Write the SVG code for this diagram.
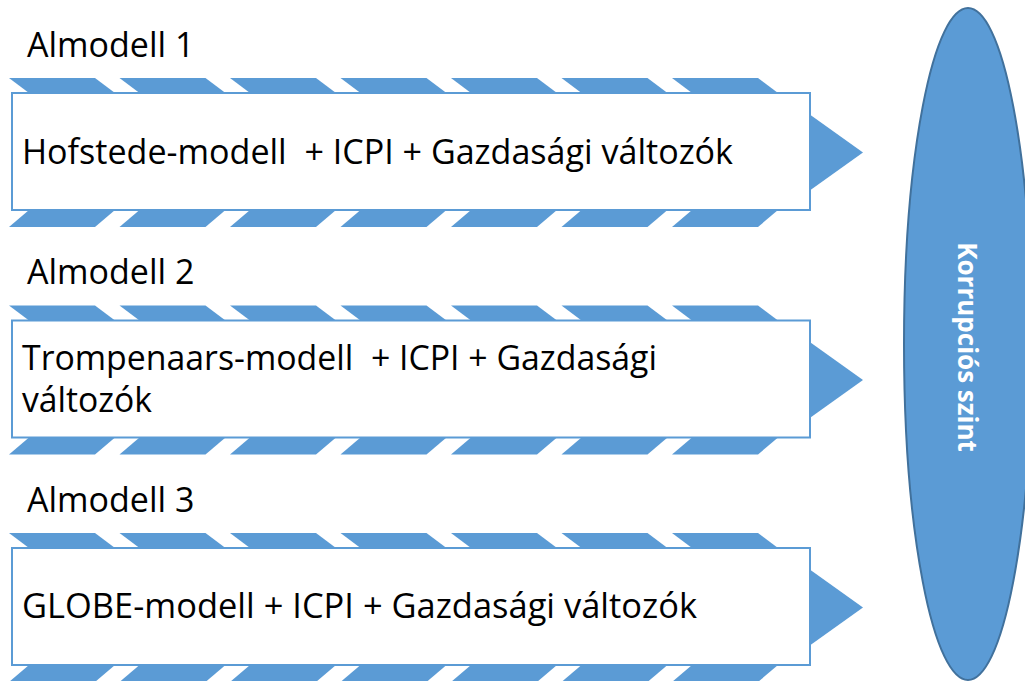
<svg xmlns="http://www.w3.org/2000/svg" xmlns:xlink="http://www.w3.org/1999/xlink" width="1025" height="681" viewBox="0 0 1025 681">
<style>
.band{fill:#5B9BD5}
.box{fill:#FFFFFF;stroke:#5B9BD5;stroke-width:2}
.t{font-family:"Open Sans","Liberation Sans",sans-serif;font-size:34px;fill:#000}
.lbl{font-family:"Open Sans","Liberation Sans",sans-serif;font-size:34px;fill:#000}
.ell{fill:#5B9BD5;stroke:#41719C;stroke-width:2}
.et{font-family:"Open Sans","Liberation Sans",sans-serif;font-size:26px;font-weight:bold;fill:#FFFFFF}
</style>
<defs>
<g id="arrow">
<polygon class="band" points="9,78 95,78 115,93 29,93"/>
<polygon class="band" points="119.5,78 205.5,78 225.5,93 139.5,93"/>
<polygon class="band" points="230,78 316,78 336,93 250,93"/>
<polygon class="band" points="340.5,78 426.5,78 446.5,93 360.5,93"/>
<polygon class="band" points="451,78 537,78 557,93 471,93"/>
<polygon class="band" points="561.5,78 647.5,78 667.5,93 581.5,93"/>
<polygon class="band" points="672,78 758,78 778,93 692,93"/>
<polygon class="band" points="29,210 115,210 95,227 9,227"/>
<polygon class="band" points="139.5,210 225.5,210 205.5,227 119.5,227"/>
<polygon class="band" points="250,210 336,210 316,227 230,227"/>
<polygon class="band" points="360.5,210 446.5,210 426.5,227 340.5,227"/>
<polygon class="band" points="471,210 557,210 537,227 451,227"/>
<polygon class="band" points="581.5,210 667.5,210 647.5,227 561.5,227"/>
<polygon class="band" points="692,210 778,210 758,227 672,227"/>
<polygon class="band" points="800,107.5 863,152.5 800,197.5"/>
<rect class="box" x="12" y="93" width="798" height="117"/>
</g>
</defs>
<g id="target">
<ellipse class="ell" cx="968" cy="344" rx="64" ry="336"/>
<text class="et" transform="translate(968,347) rotate(90)" text-anchor="middle" dominant-baseline="central">Korrupciós szint</text>
</g>
<g id="row1">
<text class="lbl" x="27" y="57">Almodell 1</text>
<use xlink:href="#arrow"/>
<text class="t" x="22" y="164" textLength="711" lengthAdjust="spacingAndGlyphs">Hofstede-modell&#160; + ICPI + Gazdasági változók</text>
</g>
<g id="row2">
<text class="lbl" x="27" y="284">Almodell 2</text>
<use xlink:href="#arrow" transform="translate(0,227.5)"/>
<text class="t" x="22" y="370" textLength="635" lengthAdjust="spacingAndGlyphs">Trompenaars-modell&#160; + ICPI + Gazdasági</text>
<text class="t" x="22" y="412" textLength="130" lengthAdjust="spacingAndGlyphs">változók</text>
</g>
<g id="row3">
<text class="lbl" x="27" y="512">Almodell 3</text>
<use xlink:href="#arrow" transform="translate(0,455)"/>
<text class="t" x="22" y="618" textLength="675" lengthAdjust="spacingAndGlyphs">GLOBE-modell + ICPI + Gazdasági változók</text>
</g>
</svg>
